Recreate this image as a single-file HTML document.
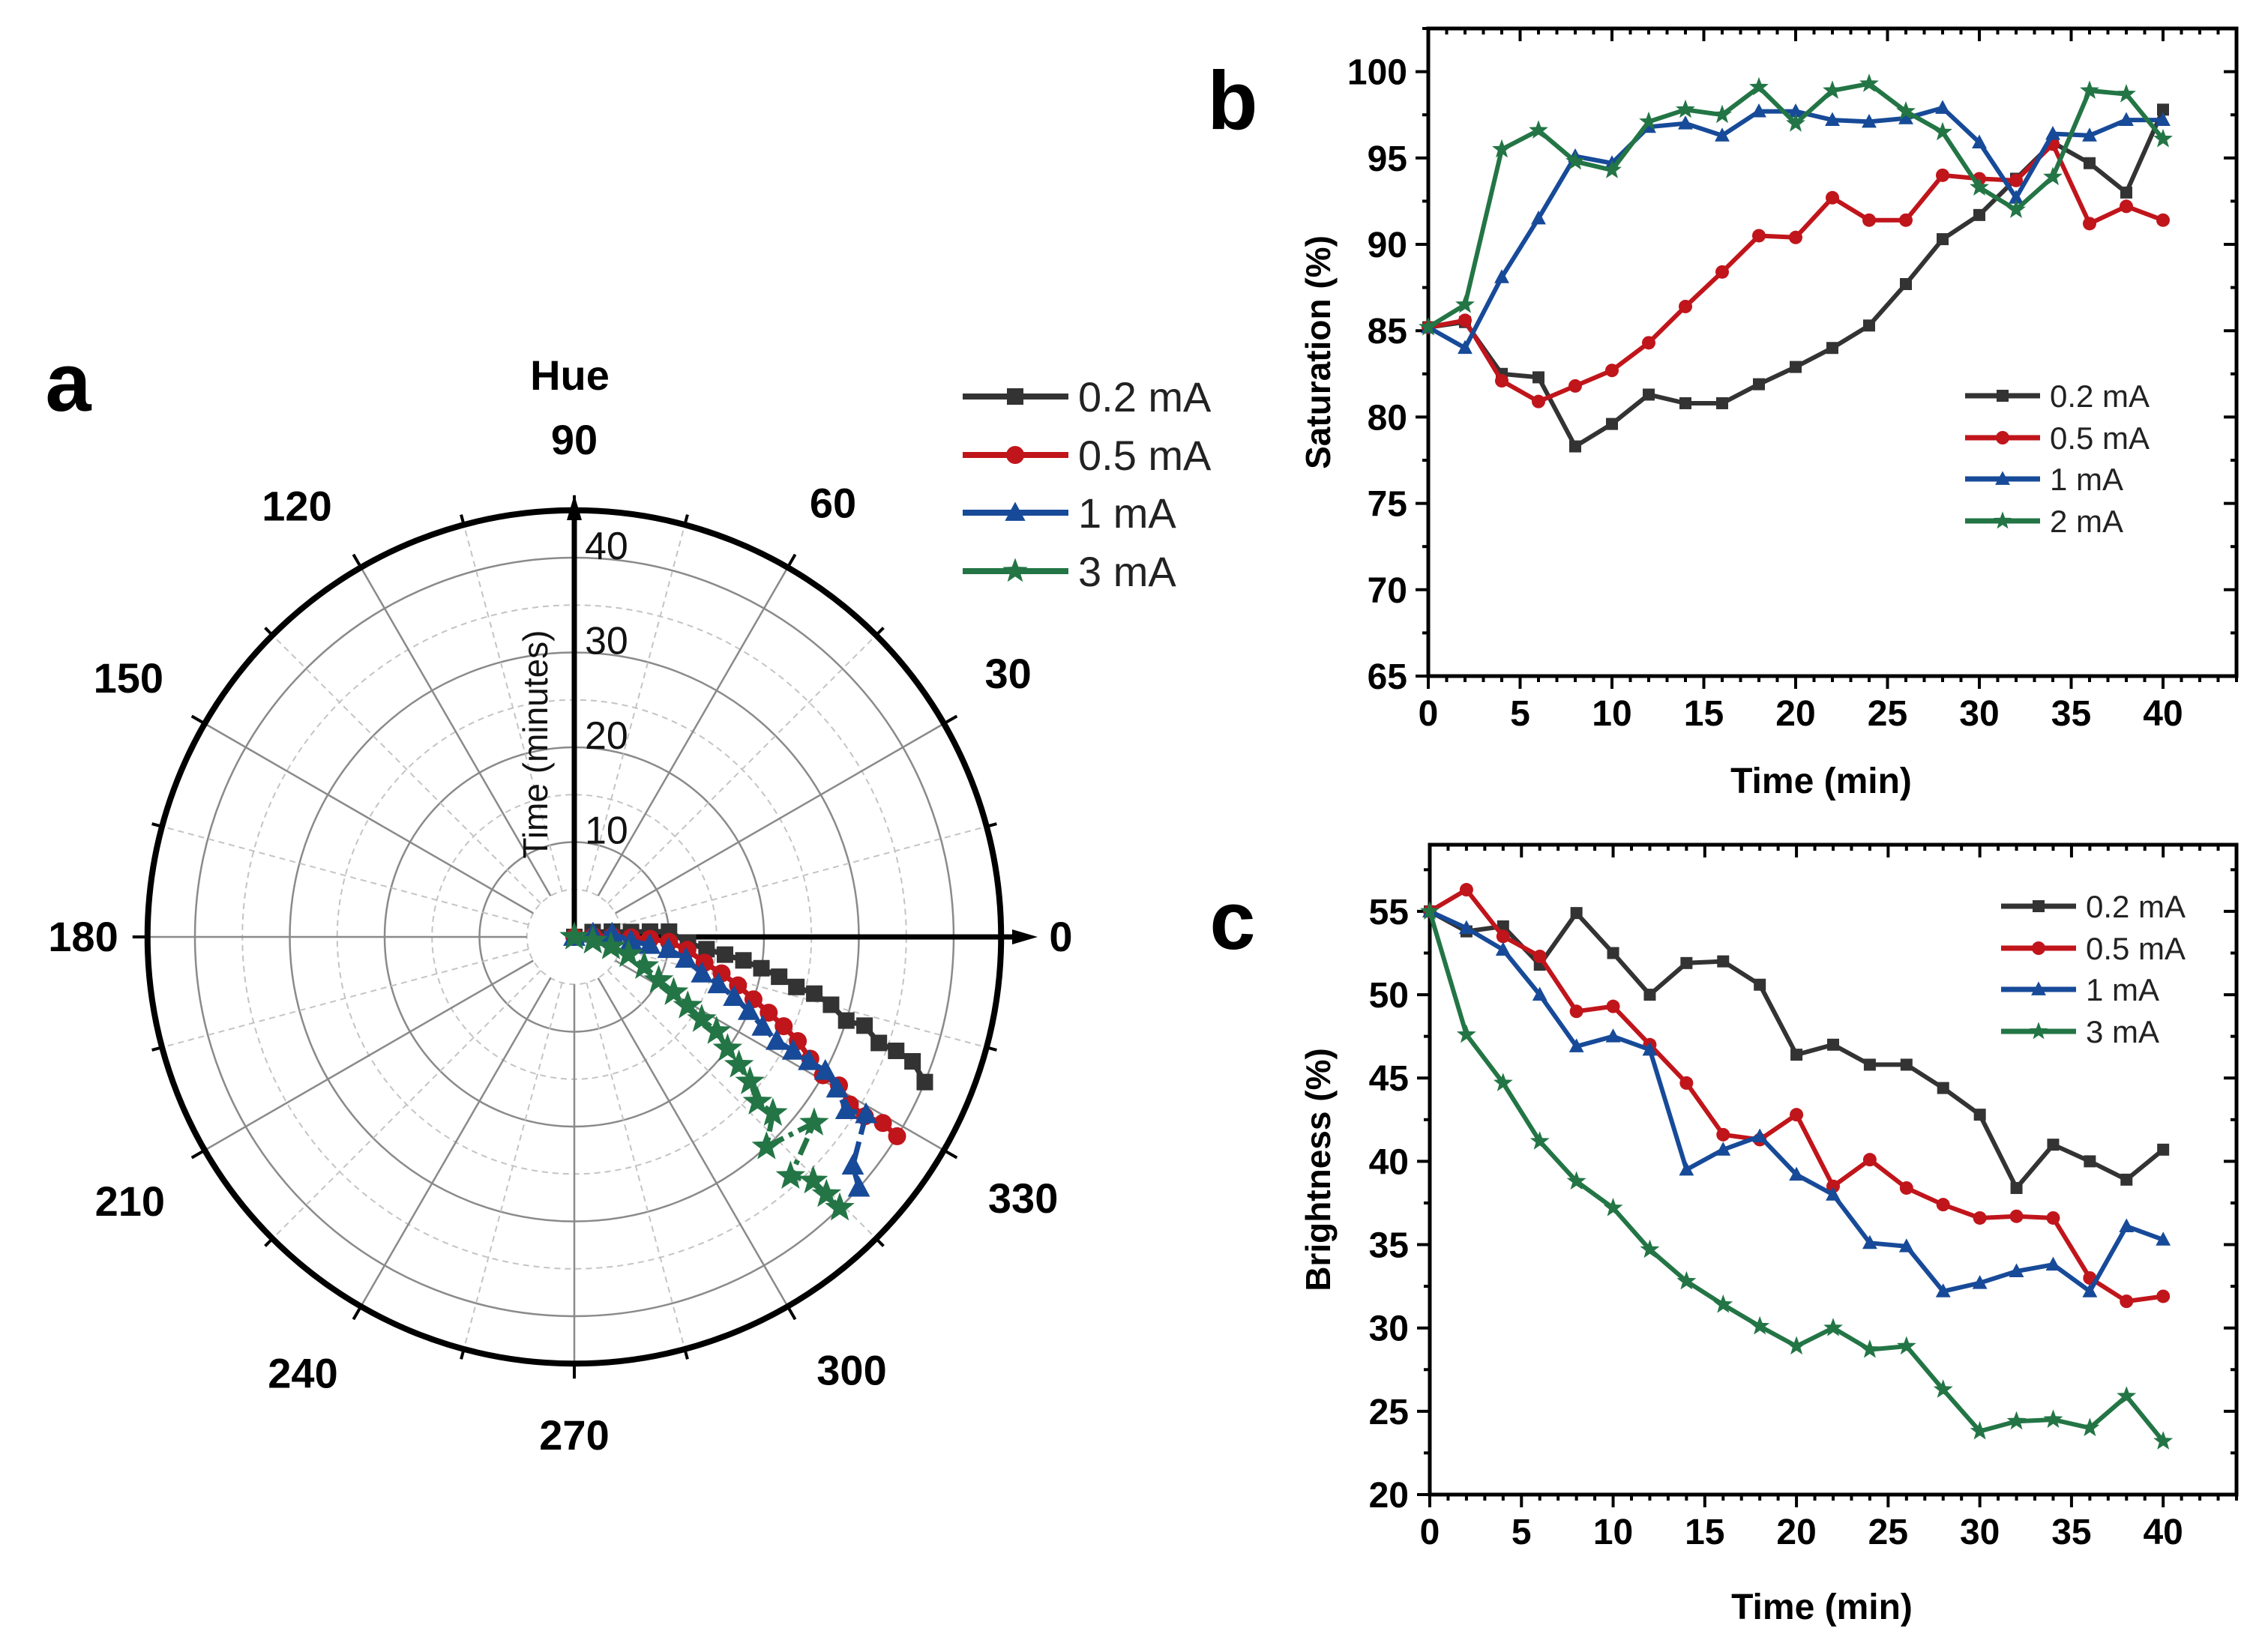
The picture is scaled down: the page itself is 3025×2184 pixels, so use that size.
<!DOCTYPE html>
<html><head><meta charset="utf-8"><style>
html,body{margin:0;padding:0;background:#fff;}
svg{display:block;font-family:"Liberation Sans",Arial,sans-serif;}
</style></head><body>
<svg id="fig" width="3025" height="2184" viewBox="0 0 3025 2184" xmlns="http://www.w3.org/2000/svg">
<g id="polar"></g>
<g id="chartB"></g>
<g id="chartC"></g>
</svg>
<script>
// ---------- data ----------
const times = [0,2,4,6,8,10,12,14,16,18,20,22,24,26,28,30,32,34,36,38,40];
// polar: hue (degrees) per time
const hue02 = [0,15,8,5,4,3.2,357.1,354.7,353.3,352.1,350.5,349.0,347.3,346.7,345.2,342.9,343.0,340.8,340.5,339.8,337.5];
const hue05 = [0,2,1,359.5,358.5,357,353.5,348.8,346.1,343.5,340.8,338.7,336.9,335,332.7,330.9,330.7,328.7,328.3,328.9,328.3];
const hue1  = [0,10,5,356,353.9,352.6,348.9,344,341.8,339.4,337,334.5,332.8,332.5,332.1,331.9,330,327.5,328.7,320.6,318.6];
const hue3  = [0,347.7,345.1,342.1,337.2,332.8,330.8,328.7,327.1,326.4,323.9,322.1,320.5,318,318.4,312.5,322.2,312.1,314.4,314.4,314.4];
const polarLabels = ['0.2 mA','0.5 mA','1 mA','3 mA'];
const angleTicks = [0,30,60,90,120,150,180,210,240,270,300,330];
const radialTicks = [10,20,30,40];
// saturation (b)
const sat02 = [85.2,85.5,82.5,82.3,78.3,79.6,81.3,80.8,80.8,81.9,82.9,84.0,85.3,87.7,90.3,91.7,93.8,95.9,94.7,93.0,97.8];
const sat05 = [85.2,85.6,82.1,80.9,81.8,82.7,84.3,86.4,88.4,90.5,90.4,92.7,91.4,91.4,94.0,93.8,93.7,95.8,91.2,92.2,91.4];
const sat1  = [85.2,84.0,88.1,91.5,95.1,94.7,96.8,97.0,96.3,97.7,97.7,97.2,97.1,97.3,97.9,95.9,92.7,96.4,96.3,97.2,97.2];
const sat2  = [85.2,86.5,95.5,96.6,94.8,94.3,97.1,97.8,97.5,99.1,97.0,98.9,99.3,97.7,96.5,93.3,92.0,93.9,98.9,98.7,96.1];
const satLabels = ['0.2 mA','0.5 mA','1 mA','2 mA'];
const satTicks = [65,70,75,80,85,90,95,100];
// brightness (c)
const bri02 = [55.0,53.8,54.1,51.8,54.9,52.5,50.0,51.9,52.0,50.6,46.4,47.0,45.8,45.8,44.4,42.8,38.4,41.0,40.0,38.9,40.7];
const bri05 = [55.0,56.3,53.5,52.3,49.0,49.3,47.0,44.7,41.6,41.3,42.8,38.5,40.1,38.4,37.4,36.6,36.7,36.6,33.0,31.6,31.9];
const bri1  = [55.0,54.0,52.7,50.0,46.9,47.5,46.7,39.5,40.7,41.5,39.2,38.0,35.1,34.9,32.2,32.7,33.4,33.8,32.2,36.1,35.3];
const bri3  = [55.0,47.6,44.7,41.2,38.8,37.2,34.7,32.8,31.4,30.1,28.9,30.0,28.7,28.9,26.3,23.8,24.4,24.5,24.0,25.9,23.2];
const briLabels = ['0.2 mA','0.5 mA','1 mA','3 mA'];
const briTicks = [20,25,30,35,40,45,50,55];
const xTicks = [0,5,10,15,20,25,30,35,40];

const COLORS = ['#333333','#c0151b','#174a98','#237545'];
const MARKERS = ['square','circle','triangle','star'];
const NS = 'http://www.w3.org/2000/svg';
function mk(parent, tag, attrs, text){
  const e = document.createElementNS(NS, tag);
  for (const k in attrs) e.setAttribute(k, attrs[k]);
  if (text !== undefined) e.textContent = text;
  parent.appendChild(e);
  return e;
}
function marker(g, type, x, y, s, color){
  let e;
  if (type==='square') e = mk(g,'rect',{x:x-s/2,y:y-s/2,width:s,height:s,fill:color});
  else if (type==='circle') e = mk(g,'circle',{cx:x,cy:y,r:s/2+1,fill:color});
  else if (type==='triangle') { const h=s*1.1; e = mk(g,'polygon',{points:`${x},${y-h*0.6} ${x-s*0.62},${y+h*0.45} ${x+s*0.62},${y+h*0.45}`,fill:color}); }
  else { let pts=[]; const R=s*0.8, r=s*0.33; for(let i=0;i<10;i++){const a=-Math.PI/2+i*Math.PI/5; const rr=i%2?r:R; pts.push((x+rr*Math.cos(a)).toFixed(1)+','+(y+rr*Math.sin(a)).toFixed(1));} e = mk(g,'polygon',{points:pts.join(' '),fill:color}); }
  
  
  return e;
}

// ---------- polar chart ----------
(function(){
  const g = document.getElementById('polar');
  const cx=766, cy=1250, k=12.65, rMax=45;
  const px = (t,h)=> cx + t*k*Math.cos(h*Math.PI/180);
  const py = (t,h)=> cy - t*k*Math.sin(h*Math.PI/180);
  for (let r=5;r<=40;r+=5){
    const solid = r%10===0;
    const c = mk(g,'circle',{cx,cy,r:r*k,fill:'none',stroke:solid?'#8a8a8a':'#c4c4c4','stroke-width':solid?2.5:2,'stroke-dasharray':solid?'none':'8,6'});
    
    
  }
  for (let a=0;a<360;a+=15){
    const solid = a%30===0;
    const l = mk(g,'line',{x1:px(5,a),y1:py(5,a),x2:px(rMax,a),y2:py(rMax,a),stroke:solid?'#8a8a8a':'#c4c4c4','stroke-width':solid?2.5:2,'stroke-dasharray':solid?'none':'8,6'});
    
    
  }
  const oc = mk(g,'circle',{cx,cy,r:rMax*k,fill:'none',stroke:'#000','stroke-width':8});
  
  
  for (let a=0;a<360;a+=15){
    const len = a%30===0?20:14;
    const R1=rMax*k, R2=R1+len;
    const t = mk(g,'line',{x1:cx+R1*Math.cos(a*Math.PI/180),y1:cy-R1*Math.sin(a*Math.PI/180),x2:cx+R2*Math.cos(a*Math.PI/180),y2:cy-R2*Math.sin(a*Math.PI/180),stroke:'#000','stroke-width':4});
    
    
  }
  const ax = mk(g,'line',{x1:cx,y1:cy,x2:1360,y2:cy,stroke:'#000','stroke-width':7});
   
  const ah = mk(g,'polygon',{points:`1384,${cy} 1350,${cy-10} 1350,${cy+10}`,fill:'#000'});
   
  const ay = mk(g,'line',{x1:cx,y1:cy,x2:cx,y2:685,stroke:'#000','stroke-width':7});
   
  const ah2 = mk(g,'polygon',{points:`${cx},660 ${cx-10},694 ${cx+10},694`,fill:'#000'});
   
  radialTicks.forEach(t=>{
    const e = mk(g,'text',{x:cx+14,y:cy-t*k+2,'font-size':52,fill:'#111'},String(t));
     
  });
  const rt = mk(g,'text',{x:0,y:0,'font-size':46,fill:'#111','text-anchor':'middle',transform:`translate(730,993) rotate(-90)`},'Time (minutes)');
   
  const nudge = {0:[-6,0],30:[-12,-10],60:[4,12],90:[0,-8],120:[-29,16],150:[-4,-4],180:[0,0],210:[-2,12],240:[-21,-8],270:[0,10],300:[29,-12],330:[8,8]};
  angleTicks.forEach(a=>{
    const R = (a%90===0) ? 655 : 682;
    const x = cx + R*Math.cos(a*Math.PI/180) + nudge[a][0];
    const y = cy - R*Math.sin(a*Math.PI/180) + nudge[a][1];
    const e = mk(g,'text',{x:x,y:y+19,'font-size':56,'font-weight':'bold','text-anchor':'middle',fill:'#000'},String(a));
     
  });
  const hue = mk(g,'text',{x:760,y:520,'font-size':56,'font-weight':'bold','text-anchor':'middle'},'Hue');
   
  const pl = mk(g,'text',{x:91,y:548,'font-size':110,'font-weight':'bold','text-anchor':'middle'},'a');
   
  const series = [hue02,hue05,hue1,hue3];
  const dashes = ['none','none','30,10','24,8,6,8'];
  const sizes = [22,22,24,26];
  series.forEach((hs,i)=>{
    const sg = mk(g,'g',{});
    
    
    const pts = times.map((t,j)=>px(t,hs[j]).toFixed(1)+','+py(t,hs[j]).toFixed(1)).join(' ');
    const pln = mk(sg,'polyline',{points:pts,fill:'none',stroke:COLORS[i],'stroke-width':7,'stroke-dasharray':dashes[i]});
     
    times.forEach((t,j)=>marker(sg,MARKERS[i],px(t,hs[j]),py(t,hs[j]),sizes[i],COLORS[i]));
  });
  const ys=[529,607,684,762];
  polarLabels.forEach((lab,i)=>{
    const lg = mk(g,'g',{});
    
    
    mk(lg,'line',{x1:1284,y1:ys[i],x2:1425,y2:ys[i],stroke:COLORS[i],'stroke-width':8});
    marker(lg,MARKERS[i],1354,ys[i],22,COLORS[i]);
    mk(lg,'text',{x:1438,y:ys[i]+20,'font-size':56,fill:'#222'},lab);
  });
})();

// ---------- line charts ----------
function lineChart(gid, opts){
  const g = document.getElementById(gid);
  const {L,R,T,B,ymin,ymax,xmin,xmax} = opts;
  const X = v => L + (v-xmin)/(xmax-xmin)*(R-L);
  const Y = v => B - (v-ymin)/(ymax-ymin)*(B-T);
  const fr = mk(g,'rect',{x:L,y:T,width:R-L,height:B-T,fill:'none',stroke:'#000','stroke-width':5});
   
  for (let v=xmin; v<=xmax; v+=1){
    const major = v%5===0, len = major?17:8;
    mk(g,'line',{x1:X(v),y1:B,x2:X(v),y2:B+len,stroke:'#000','stroke-width':4});
    mk(g,'line',{x1:X(v),y1:T,x2:X(v),y2:T+len,stroke:'#000','stroke-width':4});
  }
  for (let v=ymin; v<=ymax+0.01; v+=2.5){
    const major = Math.abs(v%5)<0.01, len = major?17:8;
    mk(g,'line',{x1:L-len,y1:Y(v),x2:L,y2:Y(v),stroke:'#000','stroke-width':4});
    mk(g,'line',{x1:R-len,y1:Y(v),x2:R,y2:Y(v),stroke:'#000','stroke-width':4});
  }
  opts.xTicks.forEach(v=>{
    const e = mk(g,'text',{x:X(v),y:B+66,'font-size':48,'font-weight':'bold','text-anchor':'middle'},String(v));
     
  });
  opts.yTicks.forEach(v=>{
    const e = mk(g,'text',{x:L-28,y:Y(v)+17,'font-size':48,'font-weight':'bold','text-anchor':'end'},String(v));
     
  });
  const xt = mk(g,'text',{x:(L+R)/2 - 15,y:opts.xTitleY,'font-size':48,'font-weight':'bold','text-anchor':'middle'},'Time (min)');
   
  const yt = mk(g,'text',{x:0,y:0,'font-size':46,'font-weight':'bold','text-anchor':'middle',transform:`translate(1774,${(T+B)/2}) rotate(-90)`},opts.yTitle);
   
  const pl = mk(g,'text',{x:1644,y:opts.panelY,'font-size':110,'font-weight':'bold','text-anchor':'middle'},opts.panel);
   
  opts.series.forEach((vals,i)=>{
    const sg = mk(g,'g',{});
    
    
    const pts = times.map((t,j)=>X(t).toFixed(1)+','+Y(vals[j]).toFixed(1)).join(' ');
    const pln = mk(sg,'polyline',{points:pts,fill:'none',stroke:COLORS[i],'stroke-width':6,'stroke-linejoin':'round'});
     
    times.forEach((t,j)=>marker(sg,MARKERS[i],X(t),Y(vals[j]),MARKERS[i]==='star'?17:16,COLORS[i]));
  });
  opts.labels.forEach((lab,i)=>{
    const y = opts.legY[i];
    const lg = mk(g,'g',{});
    
    
    mk(lg,'line',{x1:opts.legX,y1:y,x2:opts.legX+100,y2:y,stroke:COLORS[i],'stroke-width':7});
    marker(lg,MARKERS[i],opts.legX+50,y,16,COLORS[i]);
    mk(lg,'text',{x:opts.legX+113,y:y+15,'font-size':42,fill:'#222'},lab);
  });
}
lineChart('chartB',{L:1905,R:2983,T:38,B:902,xmin:0,xmax:44,ymin:65,ymax:102.5,
  xTicks:xTicks,yTicks:satTicks,series:[sat02,sat05,sat1,sat2],labels:satLabels,
  yTitle:'Saturation (%)',xTitleY:1058,panel:'b',panelY:172,legX:2621,legY:[528,584,639,695]});
lineChart('chartC',{L:1907,R:2983,T:1127,B:1994,xmin:0,xmax:44,ymin:20,ymax:59,
  xTicks:xTicks,yTicks:briTicks,series:[bri02,bri05,bri1,bri3],labels:briLabels,
  yTitle:'Brightness (%)',xTitleY:2160,panel:'c',panelY:1266,legX:2669,legY:[1209,1265,1320,1376]});
</script>
</body></html>
